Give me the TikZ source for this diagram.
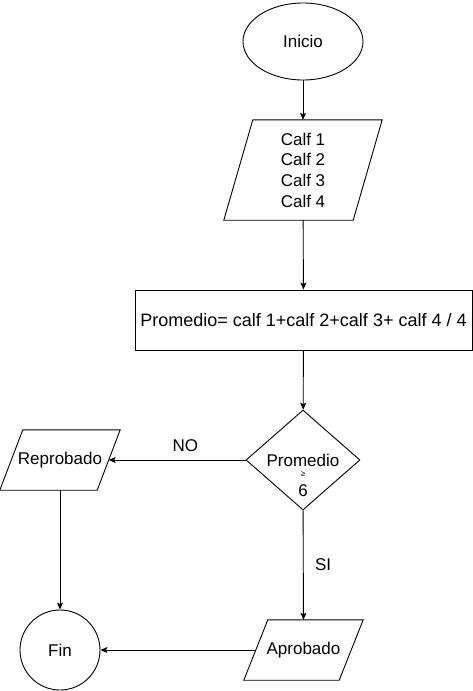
\documentclass[tikz,border=0pt]{standalone}
\usepackage{fontspec}
\setmainfont{Liberation Sans}
\usetikzlibrary{shapes.geometric,arrows.meta}
% parallelogram round a named node: #1 node, #2 half of the slant
\newcommand\ioslant[2]{
  \draw[line width=0.9pt]
    ([xshift=-#2]#1.south west) --
    ([xshift=#2]#1.north west)  --
    ([xshift=#2]#1.north east)  --
    ([xshift=-#2]#1.south east) -- cycle;
}

\begin{document}
\begin{tikzpicture}[x=1pt,y=-1pt,
    every node/.style={font=\fontsize{17}{20.7}\selectfont},
    shp/.style={draw,line width=0.9pt,inner sep=0pt},
    startstop/.style={shp,ellipse,minimum width=120pt,minimum height=77pt},
    iobox/.style={rectangle,inner sep=0pt,align=center},
    procbox/.style={shp,rectangle,minimum width=337pt,minimum height=60pt},
    decision/.style={shp,diamond,minimum width=114pt,minimum height=100pt},
    endcircle/.style={shp,circle,minimum size=80pt},
    flow/.style={line width=0.9pt,-{Stealth[length=7pt,width=6pt,inset=1.5pt]}}]
  \useasboundingbox (0,0) rectangle (473,691);

  \node[startstop] (inicio) at (303,41.5) {Inicio};
  \node[iobox,minimum width=129pt,minimum height=100pt] (calf) at (303,170)
        {Calf 1\\Calf 2\\Calf 3\\Calf 4};
  \ioslant{calf}{14.5pt}
  \node[procbox,font=\fontsize{18}{21}\selectfont] (prom) at (303.5,320)
        {Promedio= calf 1+calf 2+calf 3+ calf 4 / 4};
  \node[decision] (dia) at (303,460) {};
  % text of the decision sits a bit low
  \node (dq) at (303,460) {Promedio};
  \node[font=\fontsize{8}{8}\selectfont] (dge) at (303,474) {≥};
  \node (dsix) at (303,491) {6};
  \node[iobox,minimum width=97pt,minimum height=60pt] (rep) at (60,460) {Reprobado};
  \ioslant{rep}{11.5pt}
  \node[iobox,minimum width=95pt,minimum height=60pt] (apr) at (303.5,650) {Aprobado};
  \ioslant{apr}{12pt}
  \node[endcircle] (fin) at (60,650) {Fin};

  \draw[flow] (inicio) -- (calf);
  \draw[flow] (calf) -- (prom);
  \draw[flow] (prom) -- (dia);
  \draw[flow] (dia) -- node[pos=0.44,above=5pt] (lno) {NO} (rep);
  \draw[flow] (dia) -- node[right=8pt] (lsi) {SI} (apr);
  \draw[flow] (rep) -- (fin);
  \draw[flow] (apr) -- (fin);
\end{tikzpicture}
\end{document}
